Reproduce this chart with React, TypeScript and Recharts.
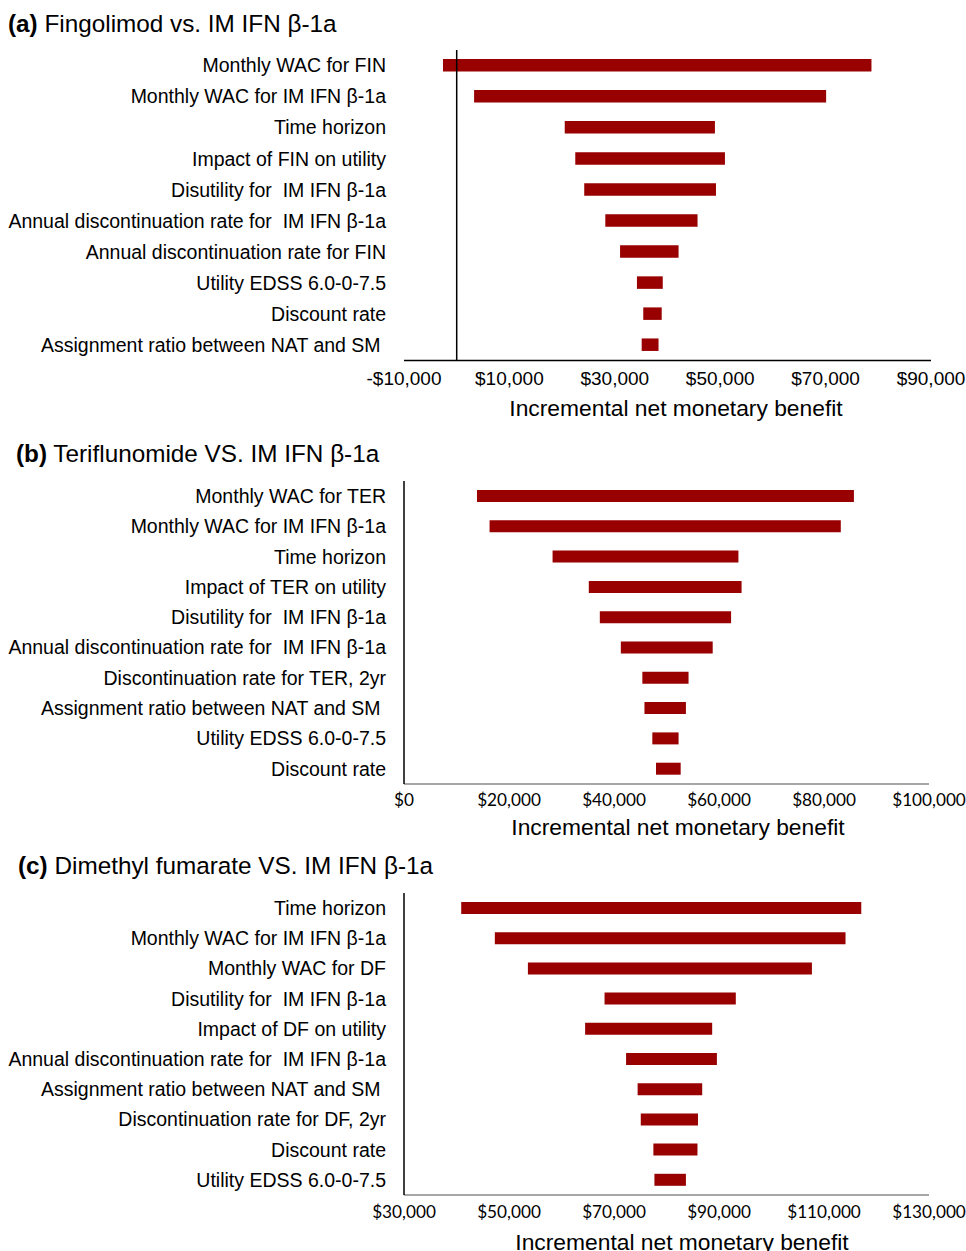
import { Bar, BarChart, ReferenceLine, XAxis, YAxis } from "recharts";

const labelsA = [
  "Monthly WAC for FIN",
  "Monthly WAC for IM IFN β-1a",
  "Time horizon",
  "Impact of FIN on utility",
  "Disutility for  IM IFN β-1a",
  "Annual discontinuation rate for  IM IFN β-1a",
  "Annual discontinuation rate for FIN",
  "Utility EDSS 6.0-0-7.5",
  "Discount rate",
  "Assignment ratio between NAT and SM ",
];
const lowA = [-2600, 3300, 20500, 22500, 24200, 28200, 31000, 34200, 35400, 35100];
const highA = [78700, 70100, 49000, 50900, 49200, 45700, 42100, 39100, 38900, 38300];
const ticksA = [-10000, 10000, 30000, 50000, 70000, 90000];

const labelsB = [
  "Monthly WAC for TER",
  "Monthly WAC for IM IFN β-1a",
  "Time horizon",
  "Impact of TER on utility",
  "Disutility for  IM IFN β-1a",
  "Annual discontinuation rate for  IM IFN β-1a",
  "Discontinuation rate for TER, 2yr",
  "Assignment ratio between NAT and SM ",
  "Utility EDSS 6.0-0-7.5",
  "Discount rate",
];
const lowB = [13900, 16300, 28300, 35200, 37300, 41300, 45400, 45800, 47300, 48000];
const highB = [85700, 83200, 63700, 64300, 62300, 58800, 54200, 53700, 52300, 52700];
const ticksB = [0, 20000, 40000, 60000, 80000, 100000];

const labelsC = [
  "Time horizon",
  "Monthly WAC for IM IFN β-1a",
  "Monthly WAC for DF",
  "Disutility for  IM IFN β-1a",
  "Impact of DF on utility",
  "Annual discontinuation rate for  IM IFN β-1a",
  "Assignment ratio between NAT and SM ",
  "Discontinuation rate for DF, 2yr",
  "Discount rate",
  "Utility EDSS 6.0-0-7.5",
];
const lowC = [40900, 47300, 53600, 68200, 64500, 72300, 74500, 75100, 77500, 77700];
const highC = [117100, 114100, 107700, 93200, 88700, 89600, 86800, 86000, 85900, 83700];
const ticksC = [30000, 50000, 70000, 90000, 110000, 130000];

const ARIAL = "'Liberation Sans', Arial, sans-serif";
const CALIBRI = "Lato, 'Liberation Sans', sans-serif";
const BAR = "#990000";

const money = (v: number) =>
  (v < 0 ? "-" : "") + "$" + Math.abs(v).toLocaleString("en-US");

type PanelProps = {
  top: number;
  height: number;
  plotTop: number;
  plotBottom: number;
  right: number;
  labels: string[];
  low: number[];
  high: number[];
  ticks: number[];
  tag: string;
  title: string;
  titleLeft: number;
  titleY: number;
  axisTitleX: number;
  axisTitleY: number;
  tickFont: string;
  tickSize: number;
  tickOffset: number;
  barSize: number;
  zeroLine?: boolean;
  xAxisColor: string;
};

function Panel(p: PanelProps) {
  const data = p.labels.map((name, i) => ({ name, low: p.low[i], high: p.high[i] }));
  const axisY = p.plotBottom - p.top;

  const YTick = (props: any) => (
    <text
      x={386}
      y={props.y}
      dy="0.35em"
      textAnchor="end"
      fontSize={19.5}
      fontFamily={ARIAL}
      fill="#000"
      style={{ whiteSpace: "pre" }}
    >
      {props.payload.value}
    </text>
  );

  const XTick = (props: any) => (
    <text
      x={props.x}
      y={axisY + p.tickOffset}
      textAnchor="middle"
      fontSize={p.tickSize}
      fontFamily={p.tickFont}
      fill="#000"
    >
      {money(props.payload.value)}
    </text>
  );

  return (
    <>
      <div
        style={{
          position: "absolute",
          left: p.titleLeft,
          top: p.titleY - 14,
          lineHeight: "28px",
          fontSize: 24.3,
          fontFamily: ARIAL,
          whiteSpace: "pre",
        }}
      >
        <b>{p.tag}</b> {p.title}
      </div>
      <div style={{ position: "absolute", left: 0, top: p.top }}>
        <BarChart
          width={966}
          height={p.height}
          data={data}
          layout="vertical"
          margin={{ top: p.plotTop - p.top, right: p.right, bottom: 0, left: 0 }}
        >
          <XAxis
            type="number"
            domain={[p.ticks[0], p.ticks[p.ticks.length - 1]]}
            ticks={p.ticks}
            interval={0}
            tickLine={false}
            height={p.height - axisY}
            axisLine={{ stroke: p.xAxisColor, strokeWidth: 1.5 }}
            tick={XTick}
          />
          <YAxis
            type="category"
            dataKey="name"
            width={404}
            tickLine={false}
            axisLine={p.zeroLine ? false : { stroke: "#000", strokeWidth: 1.5 }}
            tick={YTick}
            interval={0}
          />
          {p.zeroLine && <ReferenceLine x={0} stroke="#000" strokeWidth={1.5} />}
          <Bar
            dataKey={(d: any) => [d.low, d.high]}
            fill={BAR}
            barSize={p.barSize}
            isAnimationActive={false}
          />
        </BarChart>
      </div>
      <div
        style={{
          position: "absolute",
          left: p.axisTitleX - 300,
          top: p.axisTitleY - 14,
          width: 600,
          textAlign: "center",
          lineHeight: "28px",
          fontSize: 22.8,
          fontFamily: ARIAL,
          whiteSpace: "nowrap",
        }}
      >
        Incremental net monetary benefit
      </div>
    </>
  );
}

export default function App() {
  return (
    <div
      style={{
        position: "absolute",
        left: 0,
        top: 0,
        width: 966,
        height: 1251,
        overflow: "hidden",
        background: "#fff",
        color: "#000",
      }}
    >
      <Panel
        top={0}
        height={425}
        plotTop={50}
        plotBottom={360.5}
        right={35}
        labels={labelsA}
        low={lowA}
        high={highA}
        ticks={ticksA}
        tag="(a)"
        title="Fingolimod vs. IM IFN β-1a"
        titleLeft={8}
        titleY={24}
        axisTitleX={676}
        axisTitleY={408}
        tickFont={ARIAL}
        tickSize={19}
        tickOffset={24}
        barSize={12.5}
        zeroLine
        xAxisColor="#000"
      />
      <Panel
        top={430}
        height={420}
        plotTop={481}
        plotBottom={784}
        right={37}
        labels={labelsB}
        low={lowB}
        high={highB}
        ticks={ticksB}
        tag="(b)"
        title="Teriflunomide VS. IM IFN β-1a"
        titleLeft={16}
        titleY={454}
        axisTitleX={678}
        axisTitleY={826.5}
        tickFont={CALIBRI}
        tickSize={17.2}
        tickOffset={22}
        barSize={12}
        xAxisColor="#898989"
      />
      <Panel
        top={850}
        height={401}
        plotTop={893}
        plotBottom={1195}
        right={37}
        labels={labelsC}
        low={lowC}
        high={highC}
        ticks={ticksC}
        tag="(c)"
        title="Dimethyl fumarate VS. IM IFN β-1a"
        titleLeft={18}
        titleY={866}
        axisTitleX={682}
        axisTitleY={1242}
        tickFont={CALIBRI}
        tickSize={17.2}
        tickOffset={23}
        barSize={12}
        xAxisColor="#898989"
      />
    </div>
  );
}
